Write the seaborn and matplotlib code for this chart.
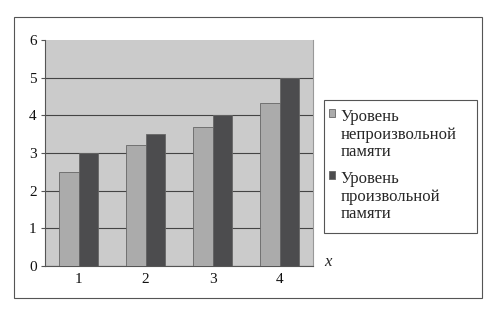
import matplotlib
matplotlib.use("Agg")
import matplotlib.pyplot as plt
import seaborn as sns
import pandas as pd
from matplotlib.patches import Rectangle

categories = ["1", "2", "3", "4"]
series_names = ["Уровень\nнепроизвольной\nпамяти", "Уровень\nпроизвольной\nпамяти"]
involuntary = [2.5, 3.2, 3.7, 4.33]
voluntary = [3.0, 3.5, 4.0, 5.0]
yticks = [0, 1, 2, 3, 4, 5, 6]

df = pd.DataFrame({
    "x": categories * 2,
    "value": involuntary + voluntary,
    "series": [series_names[0]] * 4 + [series_names[1]] * 4,
})

sns.set_style("white")
plt.rcParams["font.family"] = ["Liberation Serif", "DejaVu Serif"]

W, H = 490, 313
fig = plt.figure(figsize=(4.9, 3.13), dpi=100)
# outer chart frame
fig.patches.append(Rectangle((14 / W, 1 - 298 / H), (482 - 14) / W, (298 - 17) / H,
                             transform=fig.transFigure, fill=False, edgecolor="#555555", lw=0.8,
                             zorder=-2))
# legend frame
fig.patches.append(Rectangle((324 / W, 1 - 233 / H), (477 - 324) / W, (233 - 100) / H,
                             transform=fig.transFigure, fill=True, facecolor="white",
                             edgecolor="#555555", lw=0.8, zorder=-1))
ax = fig.add_axes([45 / W, 1 - 266 / H, (313 - 45) / W, (266 - 40) / H])
ax.set_facecolor("#CBCBCB")

sns.barplot(data=df, x="x", y="value", hue="series", palette=["#ABABAB", "#4C4C4E"],
            width=0.57, gap=0, edgecolor="#666666", linewidth=0.6, ax=ax, legend=True, zorder=3)

ax.set_ylim(0, 6)
ax.set_xlim(-0.5, 3.5)
ax.set_yticks(yticks)
ax.yaxis.grid(True, color="#444444", lw=0.8, zorder=1)
ax.get_ygridlines()[-1].set_visible(False)
ax.set_axisbelow(True)
ax.set_xlabel("")
ax.set_ylabel("")
ax.spines["top"].set_visible(False)
ax.spines["right"].set_color("#999999")
ax.spines["left"].set_color("#555555")
ax.spines["bottom"].set_color("#555555")
ax.tick_params(axis="both", labelsize=11, colors="#111111", length=3, width=0.8, direction="out")
ax.tick_params(axis="x", length=0, pad=5)
ax.set_xticks([-0.5, 0.5, 1.5, 2.5, 3.5], minor=True)
ax.tick_params(axis="x", which="minor", length=3, width=0.8, color="#555555")
ax.tick_params(axis="y", left=True, pad=3, color="#555555")

ax.text(328 / W, 1 - 262 / H, "x", transform=fig.transFigure, fontsize=12, style="italic",
        va="center", ha="center")

leg = ax.legend(loc="upper left", bbox_to_anchor=(321 / W, 1 - 101 / H),
                bbox_transform=fig.transFigure,
                frameon=False, fontsize=12,
                handlelength=0.32, handleheight=0.3, handletextpad=0.36, labelspacing=0.7,
                borderpad=0.0)
for t in leg.get_texts():
    t.set_linespacing(1.1)
# align each marker with the first line of its label
for col in leg._legend_handle_box.get_children():
    for entry in col.get_children():
        entry.align = "top"
for h in leg.legend_handles:
    h.set_edgecolor("#666666")
    h.set_linewidth(0.6)
fig.savefig("out.png", dpi=100)
